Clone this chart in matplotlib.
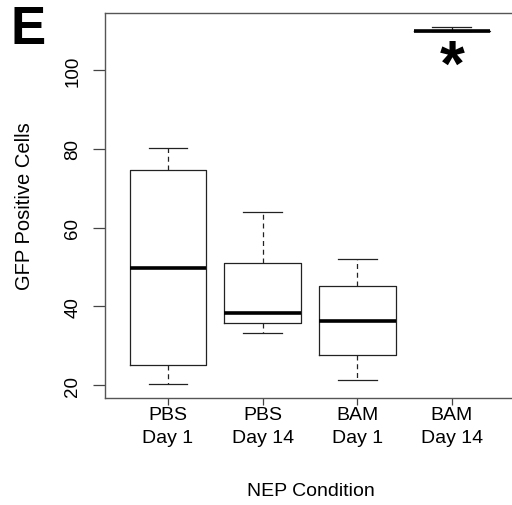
import matplotlib
matplotlib.use("Agg")
import matplotlib.pyplot as plt

plt.rcParams['font.family'] = ['Liberation Sans', 'DejaVu Sans']

# boxplot summary values
conditions = ["PBS\nDay 1", "PBS\nDay 14", "BAM\nDay 1", "BAM\nDay 14"]
whisker_low = [20.3, 33.3, 21.2, 110.0]
q1 = [25.1, 35.8, 27.7, 110.0]
median = [49.6, 38.2, 36.2, 109.9]
q3 = [74.6, 51.1, 45.1, 110.0]
whisker_high = [80.1, 64.0, 51.9, 110.9]

stats = []
for i in range(len(conditions)):
    stats.append({
        'whislo': whisker_low[i], 'q1': q1[i], 'med': median[i],
        'q3': q3[i], 'whishi': whisker_high[i], 'fliers': [],
    })

fig = plt.figure(figsize=(5.12, 5.06), dpi=100)
ax = fig.add_axes([105 / 512, 1 - 399 / 506, 1 - 105 / 512 + 0.01, (399 - 14) / 506])

line_col = '#222222'
ax.bxp(stats, positions=[1, 2, 3, 4], widths=0.81, showfliers=False,
       boxprops=dict(color=line_col, linewidth=0.9),
       medianprops=dict(color='black', linewidth=2.6, solid_capstyle='butt'),
       whiskerprops=dict(color=line_col, linewidth=0.9, linestyle=(0, (4, 3))),
       capprops=dict(color=line_col, linewidth=0.9),
       capwidths=0.41)

ax.set_xlim(0.335, 4.635 + 0.01 * 512 / 94.7)
ax.set_ylim(16.7, 114.5)

ax.set_yticks([20, 40, 60, 80, 100])
ax.set_yticklabels(['20', '40', '60', '80', '100'], rotation=90, va='center')
ax.set_xticks([1, 2, 3, 4])
ax.set_xticklabels(conditions, linespacing=1.4)
ax.tick_params(axis='y', length=9, width=0.9, labelsize=13.5, pad=8, color='#444444')
ax.tick_params(axis='x', length=5, width=0.9, labelsize=14, pad=1, color='#444444')

for side in ['left', 'bottom', 'top']:
    ax.spines[side].set_color('#555555')
    ax.spines[side].set_linewidth(1.0)
ax.spines['right'].set_visible(False)

ax.set_ylabel('GFP Positive Cells', fontsize=14.5, labelpad=22)
ax.set_xlabel('NEP Condition', fontsize=14, labelpad=26)

# significance marker
ax.text(4, 100.6, '*', ha='center', va='center', fontsize=46, fontweight='bold')

# panel letter
fig.text(11 / 512, 1 - 5 / 506, 'E', ha='left', va='top', fontsize=38, fontweight='bold')

fig.savefig('out.png', dpi=100)
